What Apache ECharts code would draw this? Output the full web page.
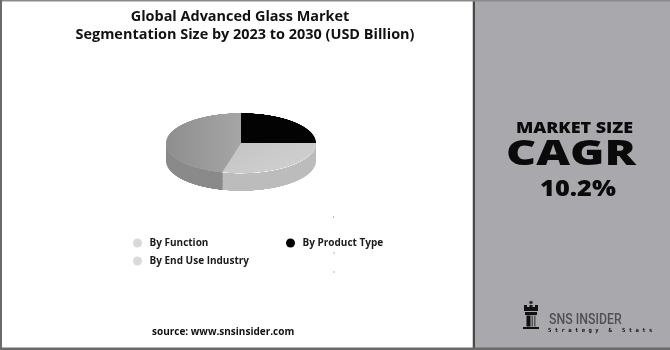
<!DOCTYPE html>
<html><head><meta charset="utf-8">
<script src="https://cdn.jsdelivr.net/npm/echarts@6/dist/echarts.min.js"></script>
<style>
html,body{margin:0;padding:0;background:#fff;}
#main{position:absolute;left:0;top:0;width:670px;height:350px;}
#pie{position:absolute;left:141px;top:100px;width:200px;height:240px;transform:scaleY(0.4);transform-origin:0 0;}
</style></head><body>
<div id="main"></div><div id="pie"></div>
<script>
// ---- data ----
const categories = ['By Product Type', 'By End Use Industry', 'By Function'];
const shares = [25, 29, 46];
const legendLeftItems = ['By Function', 'By End Use Industry'];
const legendRightItems = ['By Product Type'];
const titleLines = ['Global Advanced Glass Market', 'Segmentation Size by 2023 to 2030 (USD Billion)'];
const panelLines = ['MARKET SIZE', 'CAGR', '10.2%'];
const sourceText = 'source: www.snsinsider.com';

// ---- styles ----
const FONT = '"Open Sans", "DejaVu Sans", sans-serif';
const topColors = {
  'By Product Type': '#030303',
  'By End Use Industry': {type:'linear',x:0,y:0,x2:1,y2:1,colorStops:[{offset:0,color:'#c4c4c4'},{offset:1,color:'#d2d2d2'}]},
  'By Function': {type:'linear',x:0,y:0,x2:1,y2:0,colorStops:[{offset:0,color:'#8e8e8e'},{offset:1,color:'#a6a6a6'}]}
};
const sideColors = {
  'By Product Type': '#151515',
  'By End Use Industry': '#bcbcbc',
  'By Function': '#8a8a8a'
};
const rimColors = {
  'By Product Type': '#2a2a2a',
  'By End Use Industry': '#ededed',
  'By Function': '#a0a0a0'
};
const legendColors = {
  'By Function': '#d9d9d9',
  'By End Use Industry': '#d9d9d9',
  'By Product Type': '#000000'
};

function pieData(colorMap) {
  return categories.map((c, i) => ({ name: c, value: shares[i], itemStyle: { color: colorMap[c] } }));
}

// ---- main chart (frame, texts, legend) ----
const main = echarts.init(document.getElementById('main'));
const legendCommon = {
  orient: 'vertical', icon: 'circle', itemWidth: 14, itemHeight: 9, itemGap: 6,
  selectedMode: false,
  textStyle: { fontFamily: FONT, fontWeight: 700, fontSize: 10, color: '#1a1a1a', lineHeight: 12 }
};
main.setOption({
  animation: false,
  legend: [
    Object.assign({}, legendCommon, { left: 128, top: 232,
      data: legendLeftItems.map(n => ({ name: n, itemStyle: { color: legendColors[n] } })) }),
    Object.assign({}, legendCommon, { left: 281, top: 232,
      data: legendRightItems.map(n => ({ name: n, itemStyle: { color: legendColors[n] } })) })
  ],
  series: [{
    type: 'pie', silent: true, center: [-60, -60], radius: 1,
    label: { show: false }, labelLine: { show: false },
    data: pieData(legendColors)
  }],
  graphic: [
    // panel + frame
    { type: 'rect', shape: { x: 475, y: 0, width: 195, height: 350 }, style: { fill: '#a9a9ad' }, z: 0 },
    { type: 'rect', shape: { x: 472, y: 0, width: 1, height: 350 }, style: { fill: '#cfcfcf' }, z: 1 },
    { type: 'rect', shape: { x: 473, y: 0, width: 2, height: 350 }, style: { fill: '#4a4a4a' }, z: 1 },
    { type: 'rect', shape: { x: 0, y: 0, width: 670, height: 1.5 }, style: { fill: '#8a8a8a' }, z: 1 },
    { type: 'rect', shape: { x: 0, y: 0, width: 2, height: 350 }, style: { fill: '#6a6a6a' }, z: 1 },
    { type: 'rect', shape: { x: 0, y: 347.5, width: 670, height: 2.5 }, style: { fill: '#6a6a6a' }, z: 1 },
    // title
    { type: 'text', z: 5, x: 240, y: 17, scaleX: 1.07, style: { text: titleLines[0], x: 0, y: 0, align: 'center', verticalAlign: 'middle',
      fontFamily: FONT, fontWeight: 700, fontSize: 13.5, fill: '#111' } },
    { type: 'text', z: 5, x: 245, y: 35, scaleX: 1.07, style: { text: titleLines[1], x: 0, y: 0, align: 'center', verticalAlign: 'middle',
      fontFamily: FONT, fontWeight: 700, fontSize: 13.5, fill: '#111' } },
    // right panel texts
    { type: 'text', z: 5, x: 574.5, y: 128, scaleX: 1.12, style: { text: panelLines[0], x: 0, y: 0, align: 'center', verticalAlign: 'middle',
      fontFamily: FONT, fontWeight: 800, fontSize: 16, fill: '#0a0a0a' } },
    { type: 'text', z: 5, x: 571, y: 155, scaleX: 1.33, style: { text: panelLines[1], x: 0, y: 0, align: 'center', verticalAlign: 'middle',
      fontFamily: FONT, fontWeight: 800, fontSize: 35, fill: '#0a0a0a' } },
    { type: 'text', z: 5, x: 578, y: 189, scaleX: 1.1, style: { text: panelLines[2], x: 0, y: 0, align: 'center', verticalAlign: 'middle',
      fontFamily: FONT, fontWeight: 800, fontSize: 23, fill: '#0a0a0a' } },
    // logo
    { type: 'circle', z: 5, shape: { cx: 531, cy: 302.5, r: 1.8 }, style: { fill: '#333' } },
    { type: 'polygon', z: 5, shape: { points: [[524,305],[527,305],[527,307],[529.5,307],[529.5,305],[532.5,305],[532.5,307],[535,307],[535,305],[538,305],[538,311],[524,311]] }, style: { fill: '#111' } },
    { type: 'rect', z: 5, shape: { x: 525, y: 312, width: 12, height: 3 }, style: { fill: '#111' } },
    { type: 'rect', z: 5, shape: { x: 526.5, y: 315.5, width: 4, height: 11 }, style: { fill: '#111' } },
    { type: 'rect', z: 5, shape: { x: 531.5, y: 315.5, width: 1.5, height: 11 }, style: { fill: '#555' } },
    { type: 'rect', z: 5, shape: { x: 534, y: 315.5, width: 1.5, height: 11 }, style: { fill: '#555' } },
    { type: 'rect', z: 5, shape: { x: 523, y: 327, width: 16, height: 2 }, style: { fill: '#111' } },
    { type: 'text', z: 5, x: 549, y: 320, scaleX: 0.85, style: { text: 'SNS INSIDER', x: 0, y: 0, align: 'left', verticalAlign: 'middle',
      fontFamily: 'Roboto, sans-serif', fontWeight: 500, fontSize: 14.5, fill: '#4f4f55' } },
    { type: 'text', z: 5, x: 548, y: 331, style: { text: 'S t r a t e g y   &   S t a t s', x: 0, y: 0, align: 'left', verticalAlign: 'middle',
      fontFamily: '"DejaVu Sans Mono", monospace', fontWeight: 700, fontSize: 5.6, fill: '#111' } },
    // source
    { type: 'text', z: 5, style: { text: sourceText, x: 152, y: 332, align: 'left', verticalAlign: 'middle',
      fontFamily: FONT, fontWeight: 700, fontSize: 10, fill: '#111' } },
    // faint dots
    { type: 'circle', z: 5, shape: { cx: 333.5, cy: 217, r: 0.7 }, style: { fill: '#999' } },
    { type: 'circle', z: 5, shape: { cx: 334, cy: 253, r: 0.7 }, style: { fill: '#999' } },
    { type: 'circle', z: 5, shape: { cx: 334, cy: 272, r: 0.7 }, style: { fill: '#999' } }
  ]
});

// ---- 3D-look pie (vertically squashed canvas) ----
const pie = echarts.init(document.getElementById('pie'), null, { devicePixelRatio: 2 });
const CX = 100, CY = 107.5, R = 75, DEPTH = 45;
const series = [];
for (let k = DEPTH; k >= 3; k -= 2) {
  series.push({
    type: 'pie', silent: true, center: [CX, CY + k], radius: R, startAngle: 90, clockwise: true,
    label: { show: false }, labelLine: { show: false }, itemStyle: { borderWidth: 0 },
    data: pieData(sideColors)
  });
}
series.push({
  type: 'pie', silent: true, center: [CX, CY + 1.5], radius: R, startAngle: 90,
  label: { show: false }, labelLine: { show: false }, itemStyle: { borderWidth: 0 },
  data: pieData(rimColors)
});
series.push({
  type: 'pie', silent: true, center: [CX, CY], radius: R, startAngle: 90,
  label: { show: false }, labelLine: { show: false }, itemStyle: { borderWidth: 0 },
  data: pieData(topColors)
});
pie.setOption({ animation: false, series: series });
</script>
</body></html>
